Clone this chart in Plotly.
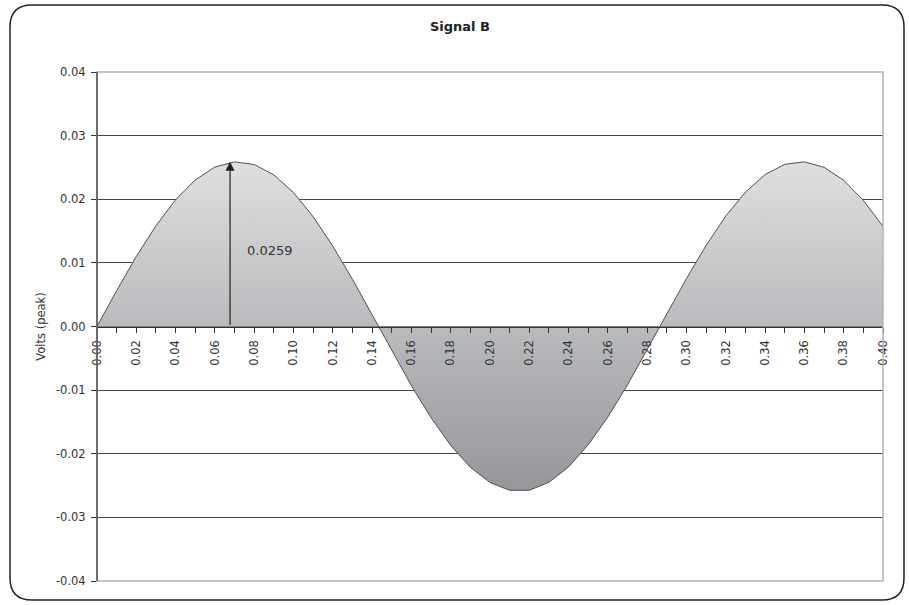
import plotly.graph_objects as go

# Time (s) and voltage samples
time_s = [0.00, 0.01, 0.02, 0.03, 0.04, 0.05, 0.06, 0.07, 0.08, 0.09,
          0.10, 0.11, 0.12, 0.13, 0.14, 0.15, 0.16, 0.17, 0.18, 0.19,
          0.20, 0.21, 0.22, 0.23, 0.24, 0.25, 0.26, 0.27, 0.28, 0.29,
          0.30, 0.31, 0.32, 0.33, 0.34, 0.35, 0.36, 0.37, 0.38, 0.39, 0.40]
volts = [0.00000, 0.00564, 0.01100, 0.01584, 0.01992, 0.02304, 0.02506, 0.02588,
         0.02546, 0.02383, 0.02105, 0.01726, 0.01264, 0.00742, 0.00185, -0.00382,
         -0.00930, -0.01434, -0.01869, -0.02214, -0.02453, -0.02575, -0.02574,
         -0.02449, -0.02207, -0.01859, -0.01422, -0.00917, -0.00369, 0.00198,
         0.00755, 0.01276, 0.01736, 0.02112, 0.02388, 0.02549, 0.02588, 0.02503,
         0.02298, 0.01982, 0.01573]

peak_time = 0.0677
peak_value = 0.0259
peak_label = "0.0259"
label_pos = (0.0755, 0.0119)

chart_title = "Signal B"
y_title = "Volts (peak)"
y_ticks = [-0.04, -0.03, -0.02, -0.01, 0.00, 0.01, 0.02, 0.03, 0.04]
y_ticktext = ["-0.04", "-0.03", "-0.02", "-0.01", "0.00", "0.01", "0.02", "0.03", "0.04"]

W, H = 909, 605
ML, MR, MT, MB = 97, 26, 72, 24
PW, PH = W - ML - MR, H - MT - MB

FONT = "DejaVu Sans, Verdana, sans-serif"
INK = "#333333"

fig = go.Figure()
fig.add_trace(go.Scatter(
    x=time_s, y=volts, mode="lines",
    line=dict(color="#505050", width=1),
    fill="tozeroy",
    fillgradient=dict(type="vertical",
                      colorscale=[[0, "#95969a"], [1, "#dedfe0"]],
                      start=-0.026, stop=0.026),
    hoverinfo="skip", showlegend=False,
))


def px(x):
    return (x - ML) / PW


def py(y):
    return (H - MB - y) / PH


# outer rounded frame
x0, x1, y0, y1, r = 10, 904, 5, 600, 22
path = (f"M {px(x0 + r)} {py(y0)} L {px(x1 - r)} {py(y0)} "
        f"Q {px(x1)} {py(y0)} {px(x1)} {py(y0 + r)} "
        f"L {px(x1)} {py(y1 - r)} "
        f"Q {px(x1)} {py(y1)} {px(x1 - r)} {py(y1)} "
        f"L {px(x0 + r)} {py(y1)} "
        f"Q {px(x0)} {py(y1)} {px(x0)} {py(y1 - r)} "
        f"L {px(x0)} {py(y0 + r)} "
        f"Q {px(x0)} {py(y0)} {px(x0 + r)} {py(y0)} Z")
fig.add_shape(type="path", path=path, xref="paper", yref="paper",
              line=dict(color="#222222", width=1.5), layer="below")

# plot-area border (gray)
fig.add_shape(type="rect", xref="paper", yref="paper", x0=0, x1=1, y0=0, y1=1,
              line=dict(color="#b4b4b4", width=1.5), layer="above")
# left axis line (dark)
fig.add_shape(type="line", xref="paper", yref="paper", x0=0, x1=0, y0=0, y1=1,
              line=dict(color=INK, width=1.2), layer="above")

# peak arrow
fig.add_annotation(x=peak_time, y=peak_value, ax=peak_time, ay=0,
                   xref="x", yref="y", axref="x", ayref="y",
                   text="", showarrow=True, arrowhead=2, arrowsize=1.5,
                   arrowwidth=1.2, arrowcolor="#222222")
fig.add_annotation(x=label_pos[0], y=label_pos[1], xref="x", yref="y",
                   text=peak_label, showarrow=False, xanchor="left",
                   font=dict(family=FONT, size=13, color=INK))

fig.update_layout(
    width=W, height=H,
    margin=dict(l=ML, r=MR, t=MT, b=MB),
    paper_bgcolor="white", plot_bgcolor="white",
    title=dict(text=f"<b>{chart_title}</b>", xref="container", x=460 / W,
               xanchor="center", y=1 - 26 / H, yanchor="middle",
               font=dict(family=FONT, size=13, color="#222222")),
    font=dict(family=FONT, size=11.5, color=INK),
    xaxis=dict(range=[0, 0.40], dtick=0.02, tick0=0, tickformat=".2f",
               tickangle=-90, ticks="outside", ticklen=5, tickcolor=INK,
               minor=dict(dtick=0.01, ticks="outside", ticklen=5,
                          tickcolor=INK, showgrid=False),
               showgrid=False, zeroline=False, showline=True,
               linecolor=INK, linewidth=1.2,
               anchor="free", position=0.5, ticklabelstandoff=3,
               tickfont=dict(family=FONT, size=11.5, color=INK)),
    yaxis=dict(range=[-0.04, 0.04], tickvals=y_ticks, ticktext=y_ticktext,
               ticks="outside", ticklen=5, tickcolor=INK,
               showgrid=True, gridcolor="#444444", gridwidth=1,
               zeroline=False, showline=False, ticklabelstandoff=3,
               title=dict(text=y_title, standoff=7,
                          font=dict(family=FONT, size=11.5, color=INK)),
               tickfont=dict(family=FONT, size=11.5, color=INK)),
)

fig.write_html("out.html", config={"displayModeBar": False},
               post_script="document.body.style.margin='0px';"
                           "document.body.style.overflow='hidden';")
